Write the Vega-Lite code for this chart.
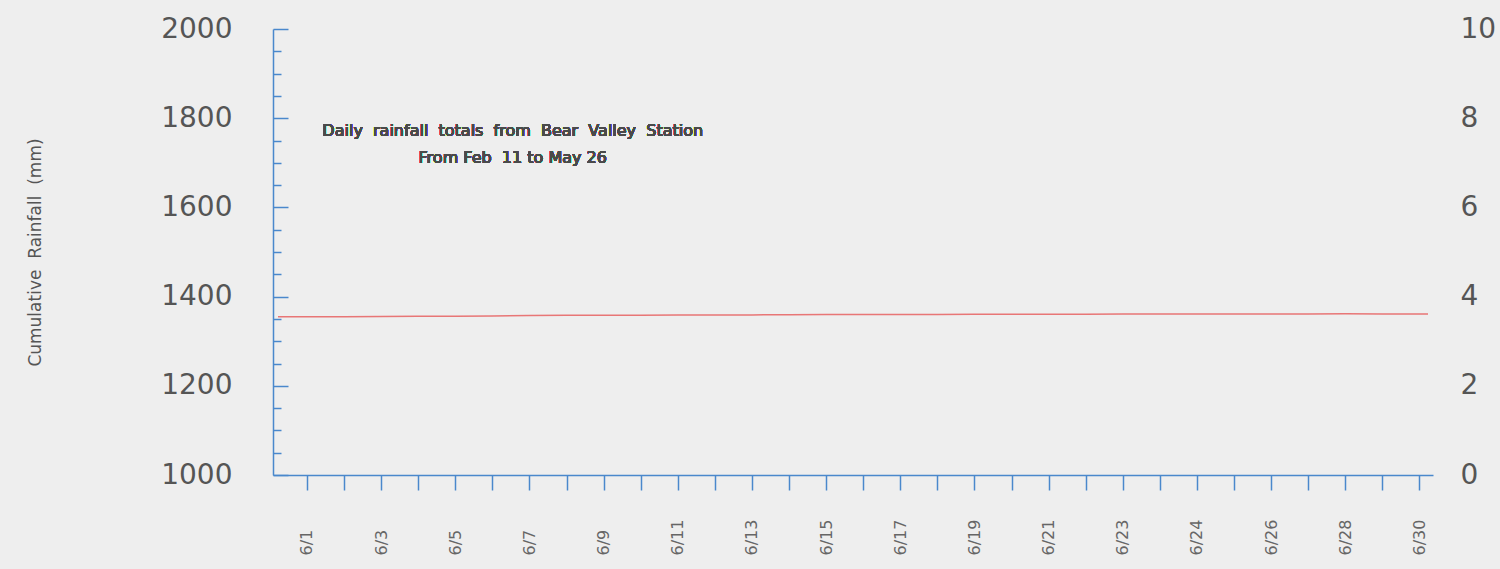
{
  "$schema": "https://vega.github.io/schema/vega-lite/v6.json",
  "width": 1160,
  "height": 446,
  "autosize": {"type": "none"},
  "padding": {"left": 273, "top": 29, "right": 67, "bottom": 94},
  "background": "#eeeeee",
  "config": {
    "view": {"stroke": null},
    "font": "DejaVu Sans"
  },
  "data": {
    "values": [
      {"day": -0.78, "cum": 1355, "rain": null},
      {"day": 0, "cum": 1355, "rain": 0},
      {"day": 1, "cum": 1355, "rain": 0},
      {"day": 2, "cum": 1355.5, "rain": 0},
      {"day": 3, "cum": 1356, "rain": 0},
      {"day": 4, "cum": 1356, "rain": 0},
      {"day": 5, "cum": 1356.5, "rain": 0},
      {"day": 6, "cum": 1357.5, "rain": 0},
      {"day": 7, "cum": 1358, "rain": 0},
      {"day": 8, "cum": 1358, "rain": 0},
      {"day": 9, "cum": 1358, "rain": 0},
      {"day": 10, "cum": 1358.5, "rain": 0},
      {"day": 11, "cum": 1358.5, "rain": 0},
      {"day": 12, "cum": 1359, "rain": 0},
      {"day": 13, "cum": 1359.5, "rain": 0},
      {"day": 14, "cum": 1360, "rain": 0},
      {"day": 15, "cum": 1360, "rain": 0},
      {"day": 16, "cum": 1360, "rain": 0},
      {"day": 17, "cum": 1360, "rain": 0},
      {"day": 18, "cum": 1360.5, "rain": 0},
      {"day": 19, "cum": 1360.5, "rain": 0},
      {"day": 20, "cum": 1360.5, "rain": 0},
      {"day": 21, "cum": 1360.5, "rain": 0},
      {"day": 22, "cum": 1361, "rain": 0},
      {"day": 23, "cum": 1361, "rain": 0},
      {"day": 24, "cum": 1361, "rain": 0},
      {"day": 25, "cum": 1361, "rain": 0},
      {"day": 26, "cum": 1361, "rain": 0},
      {"day": 27, "cum": 1361, "rain": 0},
      {"day": 28, "cum": 1361.5, "rain": 0},
      {"day": 29, "cum": 1361, "rain": 0},
      {"day": 30, "cum": 1361, "rain": 0},
      {"day": 30.23, "cum": 1361, "rain": null}
    ]
  },
  "encoding": {
    "x": {
      "field": "day",
      "type": "quantitative",
      "scale": {"domain": [-0.78, 30.23], "nice": false, "zero": false},
      "axis": {
        "title": null,
        "grid": false,
        "values": [0,1,2,3,4,5,6,7,8,9,10,11,12,13,14,15,16,17,18,19,20,21,22,23,24,25,26,27,28,29,30],
        "labelExpr": "datum.value % 2 ? '' : ['6/1','6/3','6/5','6/7','6/9','6/11','6/13','6/15','6/17','6/19','6/21','6/23','6/24','6/26','6/28','6/30'][datum.value / 2]",
        "labelAngle": 270,
        "labelAlign": "left",
        "labelBaseline": "middle",
        "labelPadding": 65,
        "labelFontSize": 16,
        "labelColor": "#666666",
        "labelFont": "DejaVu Sans",
        "labelOverlap": false,
        "labelFlush": false,
        "tickSize": 15,
        "tickWidth": 1.5,
        "tickColor": "#4a88cc",
        "domainColor": "#4a88cc",
        "domainWidth": 1.5
      }
    }
  },
  "layer": [
    {
      "layer": [
        {
          "mark": {"type": "line", "color": "#e87676", "strokeWidth": 1.5},
          "encoding": {
            "y": {
              "field": "cum",
              "type": "quantitative",
              "scale": {"domain": [1000, 2000], "nice": false, "zero": false},
              "axis": {
                "orient": "left",
                "grid": false,
                "values": [1000, 1200, 1400, 1600, 1800, 2000],
                "format": "d",
                "tickSize": -15,
                "tickWidth": 1.5,
                "tickColor": "#4a88cc",
                "domainColor": "#4a88cc",
                "domainWidth": 1.5,
                "labelFontSize": 28,
                "labelColor": "#555555",
                "labelPadding": 56,
                "labelFlush": false,
                "labelOverlap": false,
                "title": "Cumulative\u00a0 Rainfall\u00a0 (mm)",
                "titleFontSize": 17,
                "titleFontWeight": "normal",
                "titleColor": "#555555",
                "titleAngle": 270,
                "titleAlign": "center",
                "titleBaseline": "middle",
                "titleX": -238,
                "titleY": 223
              }
            }
          }
        },
        {
          "mark": {
            "type": "text",
            "fontSize": 16,
            "color": "#4a4a4a",
            "align": "center",
            "baseline": "middle",
            "lineHeight": 27
          },
          "encoding": {
            "x": {"datum": 5.55, "type": "quantitative"},
            "y": {
              "datum": 1771,
              "type": "quantitative",
              "axis": {
                "orient": "left",
                "grid": false,
                "values": [1050,1100,1150,1250,1300,1350,1450,1500,1550,1650,1700,1750,1850,1900,1950],
                "labels": false,
                "domain": false,
                "title": null,
                "tickSize": -8,
                "tickWidth": 1.5,
                "tickColor": "#4a88cc"
              }
            },
            "text": {"value": ["Daily\u00a0 rainfall\u00a0 totals\u00a0 from\u00a0 Bear\u00a0 Valley\u00a0 Station", "From Feb\u00a0 11 to May 26"]}
          }
        }
      ],
      "resolve": {"scale": {"y": "shared"}, "axis": {"y": "independent"}}
    },
    {
      "mark": {"type": "bar", "color": "#4a88cc"},
      "encoding": {
        "y": {
          "field": "rain",
          "type": "quantitative",
          "scale": {"domain": [0, 10], "nice": false, "zero": true},
          "axis": {
            "orient": "right",
            "title": null,
            "grid": false,
            "values": [0, 2, 4, 6, 8, 10],
            "ticks": false,
            "domain": false,
            "labelPadding": 27,
            "labelFontSize": 28,
            "labelColor": "#555555",
            "labelAlign": "left",
            "labelFlush": false,
            "labelOverlap": false
          }
        }
      }
    }
  ],
  "resolve": {"scale": {"y": "independent"}, "axis": {"y": "independent"}}
}
